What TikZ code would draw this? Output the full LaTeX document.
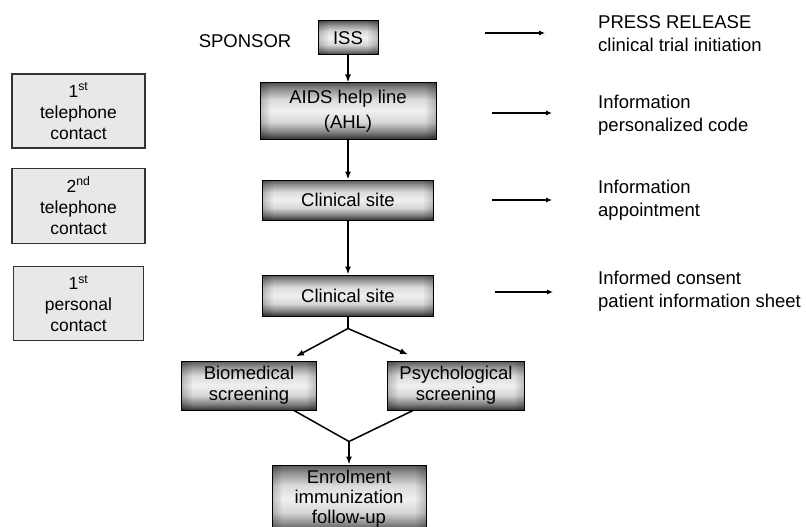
\documentclass[tikz,border=0pt]{standalone}
\usepackage{fontspec}
\setmainfont{Liberation Sans}
\usetikzlibrary{arrows.meta,positioning}
\pgfdeclareverticalshading{boxshade}{100bp}{color(0bp)=(black!80); color(25bp)=(black!80);
  color(31bp)=(black!50); color(40bp)=(black!16); color(50bp)=(black!6);
  color(60bp)=(black!14); color(69bp)=(black!42); color(75bp)=(black!66); color(100bp)=(black!66)}
\tikzset{
  stage/.style={rectangle,draw=black,line width=1pt,shade,shading=boxshade,align=center,
    font=\fontsize{18.5}{21}\selectfont,inner sep=0pt,
    path picture={
      \foreach \w in {2,4,...,10}{
        \fill[black,opacity=0.04] (path picture bounding box.south west)
          rectangle ([xshift=\w pt]path picture bounding box.north west);
        \fill[black,opacity=0.04] (path picture bounding box.south east)
          rectangle ([xshift=-\w pt]path picture bounding box.north east);}}},
  contact/.style={rectangle,draw=black!80,line width=1.2pt,fill=black!9,align=center,
    font=\fontsize{17.5}{21}\selectfont,minimum width=133pt,inner sep=0pt},
  note/.style={anchor=west,align=left,inner sep=0pt,font=\fontsize{18.5}{23}\selectfont},
  flow/.style={-{Latex[length=8pt,width=6pt]},line width=1.5pt},
  link/.style={line width=1.5pt},
  aside/.style={-{Latex[length=6pt,width=5pt]},line width=1.1pt}}

\begin{document}
\begin{tikzpicture}[x=1pt,y=1pt]
  \useasboundingbox (0,0) rectangle (806,-527);
  \node[stage,minimum width=60pt,minimum height=34pt] (iss) at (348,-38) {ISS};
  \node[left=26pt of iss,yshift=-3pt,inner sep=0pt,font=\fontsize{18.5}{21}\selectfont] (sponsor) {SPONSOR};
  \node[stage,minimum width=176pt,minimum height=56pt,below=27pt of iss] (ahl) {AIDS help line\\[4pt](AHL)};
  \node[stage,minimum width=171pt,minimum height=40pt,below=40pt of ahl] (site1) {Clinical site};
  \node[stage,minimum width=171pt,minimum height=41pt,below=54pt of site1] (site2) {Clinical site};
  \node[stage,minimum width=135pt,minimum height=49pt,below=44pt of site2,xshift=-99pt] (bio) {Biomedical\\screening};
  \node[stage,minimum width=137pt,minimum height=49pt,below=44pt of site2,xshift=108pt] (psy) {Psychological\\screening};
  \node[stage,minimum width=154pt,minimum height=68pt,below=54pt of bio,xshift=100pt,
    font=\fontsize{18.5}{20}\selectfont] (enrol) {Enrolment\\immunization\\follow-up};
  % contacts on the left
  \node[contact,minimum height=74pt] (tel1) at (78.5,-111) {1\textsuperscript{st}\\telephone\\contact};
  \node[contact,minimum height=75pt,below=19pt of tel1] (tel2) {2\textsuperscript{nd}\\telephone\\contact};
  \node[contact,minimum width=130pt,minimum height=74pt,below=22pt of tel2] (pers) {1\textsuperscript{st}\\personal\\contact};
  % notes on the right
  \node[note] (press) at (598,-34) {PRESS RELEASE\\clinical trial initiation};
  \node[note] (code) at (598,-115) {Information\\personalized code};
  \node[note] (appt) at (598,-200) {Information\\appointment};
  \node[note] (consent) at (598,-291) {Informed consent\\patient information sheet};
  \draw[aside] ([xshift=-113pt,yshift=1pt]press.west) -- ([xshift=-53pt,yshift=1pt]press.west);
  \draw[aside] ([xshift=-106pt,yshift=2pt]code.west) -- ([xshift=-46pt,yshift=2pt]code.west);
  \draw[aside] ([xshift=-106pt]appt.west) -- ([xshift=-46pt]appt.west);
  \draw[aside] ([xshift=-103pt,yshift=-1pt]consent.west) -- ([xshift=-45pt,yshift=-1pt]consent.west);
  % main flow
  \draw[flow] (iss) -- (ahl);
  \draw[flow] (ahl) -- (site1);
  \draw[flow] (site1) -- (site2);
  \coordinate (split) at ([yshift=-12pt]site2.south);
  \draw[link] (site2) -- (split);
  \draw[flow] (split) -- ([xshift=47pt,yshift=4pt]bio.north);
  \draw[flow] (split) -- ([xshift=-48pt,yshift=6pt]psy.north);
  \coordinate (join) at ([yshift=23pt]enrol.north);
  \draw[link] ([xshift=45pt]bio.south) -- (join) -- ([xshift=-43pt]psy.south);
  \draw[flow] (join) -- (enrol);
\end{tikzpicture}
\end{document}
